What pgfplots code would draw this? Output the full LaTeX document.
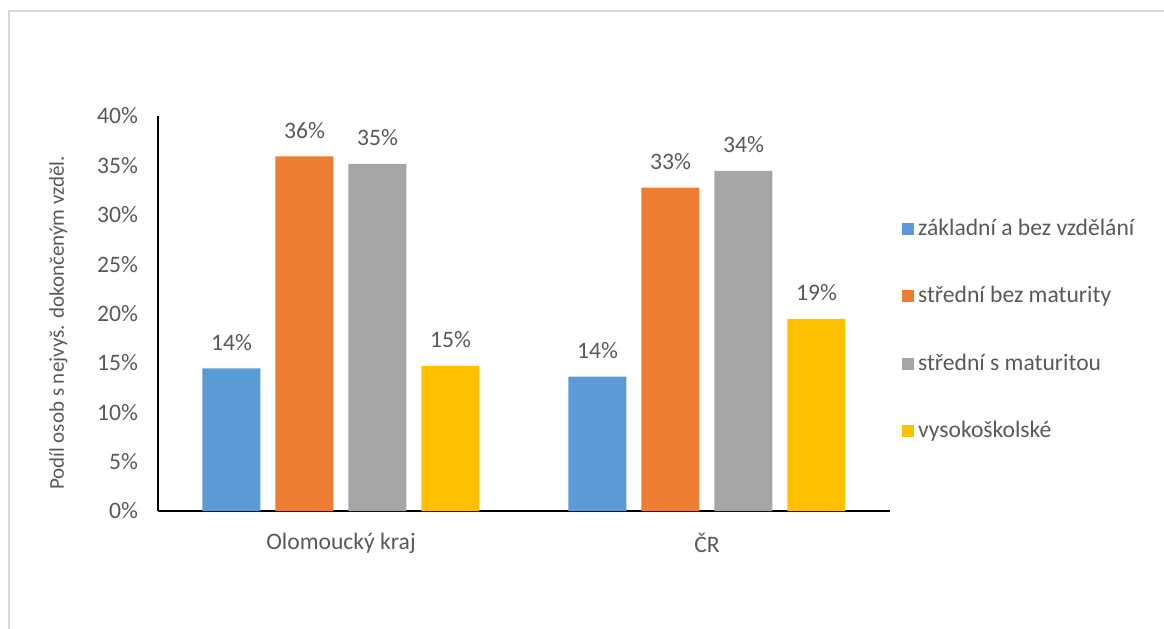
\documentclass[border=0pt]{standalone}
\usepackage{pgfplots}
\pgfplotsset{compat=1.18}
\usepackage{fontspec}
\setmainfont{Carlito}
\definecolor{cblue}{HTML}{5B9BD5}
\definecolor{corange}{HTML}{ED7D31}
\definecolor{cgray}{HTML}{A5A5A5}
\definecolor{cyellow}{HTML}{FFC000}
\definecolor{textgray}{HTML}{595959}
\definecolor{framegray}{HTML}{D9D9D9}
\newcommand{\lbl}{\fontsize{11.8}{14}\selectfont}
\begin{document}
\begin{tikzpicture}
\path[use as bounding box] (0,0) rectangle (582pt,-314pt);
\draw[framegray, line width=0.75pt] (4.5pt,-330pt) -- (4.5pt,-5.5pt) -- (600pt,-5.5pt);
\begin{axis}[
  at={(79pt,-255.5pt)}, anchor=south west,
  scale only axis, width=366pt, height=197.5pt,
  ybar=7.5pt, bar width=29pt,
  xmin=-0.5, xmax=1.5, ymin=0, ymax=40,
  xtick=data, xticklabels={Olomoucký kraj, ČR},
  ytick={0,5,...,40},
  yticklabels={0\%,5\%,10\%,15\%,20\%,25\%,30\%,35\%,40\%},
  axis x line*=bottom, axis y line*=left,
  x axis line style={-, black, line width=1pt},
  y axis line style={-, black, line width=0.7pt},
  major tick length=0,
  every tick label/.append style={font=\lbl, text=textgray},
  yticklabel style={xshift=-6.5pt},
  xticklabel style={yshift=-7.5pt},
  every axis y label/.style={at={(axis description cs:-0.136,0.476)}, rotate=90, anchor=center, font=\fontsize{10.5}{12}\selectfont, text=textgray},
  ylabel={Podíl osob s nejvyš. dokončeným vzděl.},
  nodes near coords={\pgfmathprintnumber[fixed,precision=0]{\pgfplotspointmeta}\%},
  nodes near coords style={font=\lbl, text=textgray, yshift=5.5pt},
  /pgf/number format/assume math mode=true,
  legend image code/.code={\fill[#1] (0pt,-3pt) rectangle (6pt,3pt);},
  legend style={at={(axis description cs:1.016,0.750)}, anchor=north west,
    draw=none, fill=none, font=\lbl, text=textgray, row sep=20pt,
    inner sep=0pt},
  legend cell align=left,
]
\addplot[fill=cblue, draw=none] coordinates {(0,14.45) (1,13.6)};
\addlegendentry{základní a bez vzdělání}
\addplot[fill=corange, draw=none] coordinates {(0,35.9) (1,32.75)};
\addlegendentry{střední bez maturity}
\addplot[fill=cgray, draw=none] coordinates {(0,35.15) (1,34.45)};
\addlegendentry{střední s maturitou}
\addplot[fill=cyellow, draw=none] coordinates {(0,14.7) (1,19.45)};
\addlegendentry{vysokoškolské}
\end{axis}
\end{tikzpicture}
\end{document}
